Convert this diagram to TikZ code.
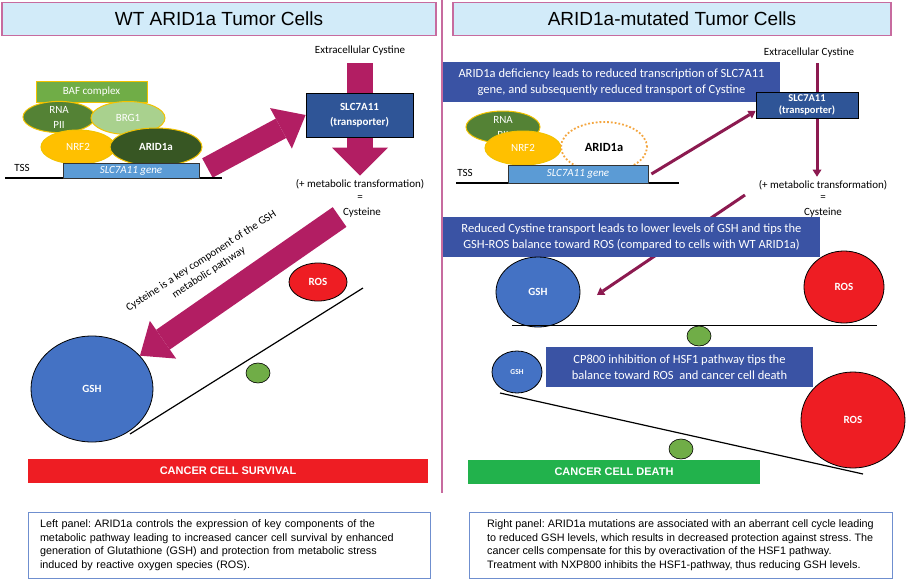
\documentclass[tikz,border=0pt]{standalone}
\usepackage{fontspec}
\setmainfont{Carlito}
\newfontfamily\arialfont{Liberation Sans}
\usetikzlibrary{arrows.meta,shapes.geometric,backgrounds}
\frenchspacing
\definecolor{titleblue}{HTML}{D2EBF9}
\definecolor{titlepink}{HTML}{C76B9F}
\definecolor{arrowmag}{HTML}{B21E63}
\definecolor{thinmag}{HTML}{8C1A50}
\definecolor{boxblue}{HTML}{3A53A4}
\definecolor{slcblue}{HTML}{2F5597}
\definecolor{geneblue}{HTML}{5B9BD5}
\definecolor{gshblue}{HTML}{4472C4}
\definecolor{rosred}{HTML}{EE1D23}
\definecolor{pivotgreen}{HTML}{70AD47}
\definecolor{deathgreen}{HTML}{22B24C}
\definecolor{bafgreen}{HTML}{70AD47}
\definecolor{rnagreen}{HTML}{548235}
\definecolor{brggreen}{HTML}{A9D18E}
\definecolor{nrfgold}{HTML}{FFC000}
\definecolor{ariddark}{HTML}{375623}
\definecolor{rimgold}{HTML}{F2C200}
\definecolor{dotorange}{HTML}{F4A640}
\definecolor{capblue}{HTML}{6F8FCF}
\begin{document}
\begin{tikzpicture}
[x=1pt,y=-1pt,font=\fontsize{11}{13}\selectfont,
 title/.style={draw=titlepink,line width=1.5pt,fill=titleblue,minimum height=33pt,inner sep=0pt,font=\arialfont\fontsize{19}{22}\selectfont},
 prot/.style={ellipse,draw=rimgold,line width=1pt,inner sep=0pt,text=white,align=center},
 gene/.style={draw=black!80,line width=0.8pt,fill=geneblue,inner sep=0pt,text=white,font=\itshape\fontsize{11}{13}\selectfont},
 slcbox/.style={draw=black,line width=0.8pt,fill=slcblue,text=white,font=\bfseries\fontsize{11}{15}\selectfont,align=center,inner sep=0pt},
 infobox/.style={fill=boxblue,text=white,align=center,inner sep=0pt,font=\fontsize{12.5}{15.5}\selectfont},
 ball/.style={ellipse,draw=black,line width=0.8pt,inner sep=0pt,text=white,font=\bfseries\fontsize{11}{13}\selectfont},
 gshball/.style={ball,fill=gshblue},
 rosball/.style={ball,fill=rosred},
 pivot/.style={ellipse,draw=black,line width=0.6pt,fill=pivotgreen,minimum width=24pt,minimum height=20pt},
 outcome/.style={inner sep=0pt,minimum height=24pt,text=white,font=\arialfont\bfseries\fontsize{11}{13}\selectfont},
 caption/.style={draw=capblue,line width=1pt,minimum height=66pt,inner xsep=12pt,align=left,font=\arialfont\fontsize{10.8}{13.5}\selectfont},
 bigarrow/.style={draw=arrowmag,line width=22pt,-{Triangle[width=46pt,length=28pt,line width=0pt]}},
 thinarrow/.style={draw=thinmag,line width=3pt,-{Triangle[width=9pt,length=7pt,line width=0pt]}},
 seesaw/.style={line width=1.2pt}]
\useasboundingbox (0,0) rectangle (906,582);
% titles and divider
\node[title,minimum width=434pt] (t1) at (219,19) {WT ARID1a Tumor Cells};
\node[title,minimum width=438pt] (t2) at (672,19) {ARID1a-mutated Tumor Cells};
\draw[titlepink,line width=1.2pt] (442,0) -- (442,493);

% left panel: promoter
\node[prot,fill=bafgreen,rectangle,minimum width=111pt,minimum height=21pt] (baf) at (91.5,91.5) {BAF complex};
\node[prot,fill=rnagreen,minimum width=72pt,minimum height=30pt,font=\fontsize{11}{15}\selectfont] (rna) at (59,117) {RNA\\PII};
\node[prot,fill=brggreen,minimum width=74pt,minimum height=33pt] (brg) at (128,118) {BRG1};
\node[prot,fill=nrfgold,minimum width=74pt,minimum height=34pt] (nrf) at (78,147) {NRF2};
\node[prot,fill=ariddark,minimum width=92pt,minimum height=38pt,font=\bfseries\fontsize{11}{13}\selectfont] (arid) at (156,147) {ARID1a};
\draw[line width=1.2pt] (5,178) -- (222,178);
\node[gene,minimum width=136pt,minimum height=15pt] (gene) at (131,170.5) {SLC7A11 gene};
\node (tss) at (22,168) {TSS};

% left panel: transport
\node (ext) at (360,51) {Extracellular Cystine};
\node[slcbox,minimum width=107pt,minimum height=44pt] (slc) at (359.5,115) {SLC7A11\\(transporter)};
\node (meta) at (360,184) {(+ metabolic transformation)};
\node (eq) at (360,198) {=};
\node (cys) at (362,213) {Cysteine};
\node[rotate=33,align=center,font=\fontsize{11}{14}\selectfont] (note) at (205,267) {Cysteine is a key component of the GSH\\metabolic pathway};

% left panel: balance
\node[rosball,minimum width=58pt,minimum height=38pt] (ros) at (318,282) {ROS};
\node[gshball,minimum width=122pt,minimum height=106pt] (gsh) at (92,389) {GSH};
\draw[seesaw] (130,434) -- (363,288);
\node[pivot] (p1) at (258,373) {};
\node[outcome,fill=rosred,minimum width=400pt] (surv) at (228,471) {CANCER CELL SURVIVAL};
\node[caption,text width=378pt] (cap1) at (229,545) {Left panel: ARID1a controls the expression of key components of the\\
metabolic pathway leading to increased cancer cell survival by enhanced\\
generation of Glutathione (GSH) and protection from metabolic stress\\
induced by reactive oxygen species (ROS).};

% right panel: promoter
\node[infobox,minimum width=337pt,minimum height=40pt] (info1) at (611.5,82) {ARID1a deficiency leads to reduced transcription of SLC7A11\\gene, and subsequently reduced transport of Cystine};
\node[prot,fill=rnagreen,minimum width=74pt,minimum height=32pt,font=\fontsize{11}{15}\selectfont] (rna2) at (503,127) {RNA\\PII};
\node[prot,fill=nrfgold,minimum width=76pt,minimum height=34pt] (nrf2) at (523,148) {NRF2};
\node[ellipse,draw=dotorange,dotted,line width=1.8pt,fill=white,inner sep=0pt,minimum width=86pt,minimum height=50pt,font=\bfseries\fontsize{12.5}{14}\selectfont] (arid2) at (604,147) {ARID1a};
\draw[line width=1.2pt] (456,183) -- (679,183);
\node[gene,minimum width=140pt,minimum height=18pt] (gene2) at (578,174) {SLC7A11 gene};
\node (tss2) at (465,173) {TSS};

% right panel: transport
\node (ext2) at (809,53) {Extracellular Cystine};
\node[slcbox,minimum width=102pt,minimum height=26pt,font=\bfseries\fontsize{10.5}{12}\selectfont] (slc2) at (807,105) {SLC7A11\\(transporter)};
\node (meta2) at (823,185) {(+ metabolic transformation)};
\node (eq2) at (823,198) {=};
\node (cys2) at (823,213) {Cysteine};
\node[infobox,minimum width=377pt,minimum height=40pt] (info2) at (631.5,237) {Reduced Cystine transport leads to lower levels of GSH and tips the\\GSH-ROS balance toward ROS (compared to cells with WT ARID1a)};
\coordinate (r1) at (745,195);
\coordinate (r2) at (597,295);

% right panel: balances
\node[gshball,minimum width=84pt,minimum height=70pt] (gsh2) at (538,292) {GSH};
\node[rosball,minimum width=80pt,minimum height=72pt] (ros2) at (844,287) {ROS};
\draw[seesaw] (512,325.5) -- (877,325.5);
\node[pivot] (p2) at (699,336) {};
\node[infobox,minimum width=267pt,minimum height=40pt] (info3) at (679.5,367) {CP800 inhibition of HSF1 pathway tips the\\balance toward ROS \ and cancer cell death};
\node[gshball,minimum width=50pt,minimum height=42pt,font=\bfseries\fontsize{7.5}{9}\selectfont] (gsh3) at (517,372) {GSH};
\draw[seesaw] (500,393) -- (863,474);
\node[rosball,minimum width=104pt,minimum height=96pt] (ros3) at (853,420) {ROS};
\node[pivot] (p3) at (681,449) {};
\node[outcome,fill=deathgreen,minimum width=292pt] (death) at (614,472) {CANCER CELL DEATH};
\node[caption,minimum width=423pt] (cap2) at (680.5,545) {Right panel: ARID1a mutations are associated with an aberrant cell cycle leading\\
to reduced GSH levels, which results in decreased protection against stress. The\\
cancer cells compensate for this by overactivation of the HSF1 pathway.\\
Treatment with NXP800 inhibits the HSF1-pathway, thus reducing GSH levels.};

% arrows behind the boxes
\begin{pgfonlayer}{background}
\draw[bigarrow] ([shift={(8,-2.5)}]gene.east) -- (slc.west);
\draw[bigarrow,line width=26pt,-{Triangle[width=56pt,length=28pt,line width=0pt]}] ([yshift=-4pt]ext.south) -- (meta.north);
\draw[bigarrow,line width=24pt] ([yshift=-4pt]cys.west) -- (gsh);
\draw[thinarrow] ([xshift=3pt]gene2.east) -- ([yshift=-6pt]slc2.west);
\draw[thinarrow] ([xshift=8pt,yshift=-2pt]ext2.south) -- ([xshift=-6pt]meta2.north);
\draw[thinarrow] (r1) -- (r2);
\end{pgfonlayer}
\end{tikzpicture}
\end{document}
